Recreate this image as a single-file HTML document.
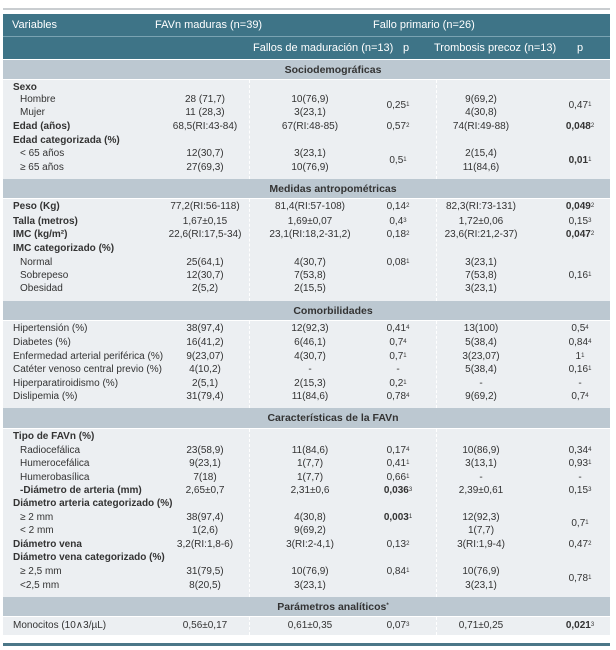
<!DOCTYPE html>
<html><head><meta charset="utf-8">
<style>
body{margin:0;background:#fff;width:616px;height:650px;position:relative;overflow:hidden;font-family:"Liberation Sans",sans-serif;color:#333;}
.a{position:absolute;white-space:nowrap;font-size:10px;line-height:14px;height:14px;}
.c{transform:translateX(-50%);}
.b{font-weight:bold;}
sup{font-size:6px;vertical-align:top;position:relative;top:-1px;}
.h{color:#fff;font-size:11px;}
.sec{position:absolute;left:3px;width:607px;background:#bcc8d1;}
.body{position:absolute;left:3px;width:607px;background:#eceff2;}
.dash{position:absolute;width:0;border-left:1px dashed #fff;}
</style></head>
<body>
<div style="position:absolute;left:3px;top:8px;width:607px;height:2px;background:#c9cdd0"></div>
<div style="position:absolute;left:3px;top:14px;width:607px;height:22px;background:#3e7487"></div>
<div style="position:absolute;left:3px;top:36px;width:607px;height:1px;background:#7aa3b2"></div>
<div style="position:absolute;left:3px;top:37px;width:607px;height:22px;background:#3e7487"></div>
<div class="a h" style="left:12px;top:18px">Variables</div>
<div class="a h" style="left:155px;top:18px">FAVn maduras (n=39)</div>
<div class="a h" style="left:373px;top:18px">Fallo primario (n=26)</div>
<div class="a h" style="left:253px;top:41px">Fallos de maduración (n=13)</div>
<div class="a h" style="left:403px;top:41px">p</div>
<div class="a h" style="left:434px;top:41px">Trombosis precoz (n=13)</div>
<div class="a h" style="left:577px;top:41px">p</div>
<div style="position:absolute;left:3px;top:643px;width:607px;height:3px;background:#4b7788"></div>
<div id="root"></div>
<script>
const sections=[["Sociodemográficas",60,79],["Medidas antropométricas",179,198],["Comorbilidades",301,320],["Características de la FAVn",408,428],["Parámetros analíticos<sup>*</sup>",597,616]];
const bodies=[[80,179],[199,301],[321,408],[429,597],[617,635]];
// y, label, style(0 bold,1 indent,2 normal), c1, c2, p1, c3, p2
const rows=[
[88,"Sexo",0,"","","","",""],
[100,"Hombre",1,"28 (71,7)","10(76,9)","","9(69,2)",""],
[113,"Mujer",1,"11 (28,3)","3(23,1)","","4(30,8)",""],
[127,"Edad (años)",0,"68,5(RI:43-84)","67(RI:48-85)","0,57<sup>2</sup>","74(RI:49-88)","<b>0,048</b><sup>2</sup>"],
[141,"Edad categorizada (%)",0,"","","","",""],
[154,"&lt; 65 años",1,"12(30,7)","3(23,1)","","2(15,4)",""],
[168,"≥ 65 años",1,"27(69,3)","10(76,9)","","11(84,6)",""],
[207,"Peso (Kg)",0,"77,2(RI:56-118)","81,4(RI:57-108)","0,14<sup>2</sup>","82,3(RI:73-131)","<b>0,049</b><sup>2</sup>"],
[222,"Talla (metros)",0,"1,67±0,15","1,69±0,07","0,4<sup>3</sup>","1,72±0,06","0,15<sup>3</sup>"],
[235,"IMC (kg/m²)",0,"22,6(RI:17,5-34)","23,1(RI:18,2-31,2)","0,18<sup>2</sup>","23,6(RI:21,2-37)","<b>0,047</b><sup>2</sup>"],
[249,"IMC categorizado (%)",0,"","","","",""],
[263,"Normal",1,"25(64,1)","4(30,7)","0,08<sup>1</sup>","3(23,1)",""],
[276,"Sobrepeso",1,"12(30,7)","7(53,8)","","7(53,8)","0,16<sup>1</sup>"],
[289,"Obesidad",1,"2(5,2)","2(15,5)","","3(23,1)",""],
[329,"Hipertensión (%)",2,"38(97,4)","12(92,3)","0,41<sup>4</sup>","13(100)","0,5<sup>4</sup>"],
[343,"Diabetes (%)",2,"16(41,2)","6(46,1)","0,7<sup>4</sup>","5(38,4)","0,84<sup>4</sup>"],
[357,"Enfermedad arterial periférica (%)",2,"9(23,07)","4(30,7)","0,7<sup>1</sup>","3(23,07)","1<sup>1</sup>"],
[370,"Catéter venoso central previo (%)",2,"4(10,2)","-","-","5(38,4)","0,16<sup>1</sup>"],
[384,"Hiperparatiroidismo (%)",2,"2(5,1)","2(15,3)","0,2<sup>1</sup>","-","-"],
[397,"Dislipemia (%)",2,"31(79,4)","11(84,6)","0,78<sup>4</sup>","9(69,2)","0,7<sup>4</sup>"],
[437,"Tipo de FAVn (%)",0,"","","","",""],
[451,"Radiocefálica",1,"23(58,9)","11(84,6)","0,17<sup>4</sup>","10(86,9)","0,34<sup>4</sup>"],
[464,"Humerocefálica",1,"9(23,1)","1(7,7)","0,41<sup>1</sup>","3(13,1)","0,93<sup>1</sup>"],
[478,"Humerobasílica",1,"7(18)","1(7,7)","0,66<sup>1</sup>","-","-"],
[491,"-Diámetro de arteria (mm)",3,"2,65±0,7","2,31±0,6","<b>0,036</b><sup>3</sup>","2,39±0,61","0,15<sup>3</sup>"],
[504,"Diámetro arteria categorizado (%)",0,"","","","",""],
[518,"≥ 2 mm",1,"38(97,4)","4(30,8)","<b>0,003</b><sup>1</sup>","12(92,3)",""],
[531,"&lt; 2 mm",1,"1(2,6)","9(69,2)","","1(7,7)",""],
[545,"Diámetro vena",0,"3,2(RI:1,8-6)","3(RI:2-4,1)","0,13<sup>2</sup>","3(RI:1,9-4)","0,47<sup>2</sup>"],
[558,"Diámetro vena categorizado (%)",0,"","","","",""],
[572,"≥ 2,5 mm",1,"31(79,5)","10(76,9)","0,84<sup>1</sup>","10(76,9)",""],
[586,"&lt;2,5 mm",1,"8(20,5)","3(23,1)","","3(23,1)",""],
[626,"Monocitos (10∧3/µL)",2,"0,56±0,17","0,61±0,35","0,07<sup>3</sup>","0,71±0,25","<b>0,021</b><sup>3</sup>"]
];
// merged p-values spanning two rows: y, column(p1|p2), text
const merged=[[106,"p1","0,25<sup>1</sup>"],[106,"p2","0,47<sup>1</sup>"],[161,"p1","0,5<sup>1</sup>"],[161,"p2","<b>0,01</b><sup>1</sup>"],[524,"p2","0,7<sup>1</sup>"],[579,"p2","0,78<sup>1</sup>"]];
const colX={c1:205,c2:310,p1:398,c3:481,p2:580};
const root=document.getElementById('root');
function txt(x,y,html,cls){const d=document.createElement('div');d.className='a '+cls;d.style.left=x+'px';d.style.top=(y-7)+'px';d.innerHTML=html;root.appendChild(d);return d;}
bodies.forEach(b=>{
 const d=document.createElement('div');d.className='body';d.style.top=b[0]+'px';d.style.height=(b[1]-b[0])+'px';
 
 
 root.appendChild(d);
 [249,436].forEach(x=>{const l=document.createElement('div');l.className='dash';l.style.left=x+'px';l.style.top=b[0]+'px';l.style.height=(b[1]-b[0])+'px';
 
 
 root.appendChild(l);});
});
sections.forEach(s=>{
 const d=document.createElement('div');d.className='sec';d.style.top=s[1]+'px';d.style.height=(s[2]-s[1])+'px';
 
 
 root.appendChild(d);
 const t=txt(333,(s[1]+s[2])/2,s[0],'c b');t.style.fontSize='10.5px';
 
 
});
rows.forEach(r=>{
 const x=r[2]===1?20:(r[2]===3?20:13);
 const l=txt(x,r[0],r[1],(r[2]===0||r[2]===3)?'b':'');
 
 
 ['c1','c2','p1','c3','p2'].forEach((k,i)=>{const v=r[3+i];if(!v)return;
  const c=txt(colX[k],r[0],v,'c');
  
  });
});
merged.forEach(m=>{const c=txt(colX[m[1]],m[0],m[2],'c');
 
 });
</script>
</body></html>
